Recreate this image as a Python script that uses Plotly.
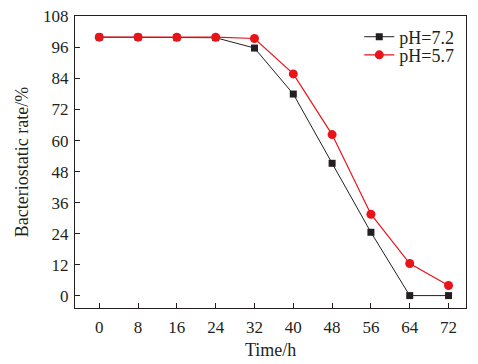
import plotly.graph_objects as go

time_h = [0, 8, 16, 24, 32, 40, 48, 56, 64, 72]
ph72 = [100, 100, 99.8, 99.8, 95.8, 78.0, 51.2, 24.5, 0, 0]
ph57 = [100, 100, 100, 100, 99.5, 85.8, 62.3, 31.5, 12.4, 3.9]
y_ticks = [0, 12, 24, 36, 48, 60, 72, 84, 96, 108]

FONT = "Times New Roman, Liberation Serif, serif"
INK = "#231f20"

fig = go.Figure()
fig.add_trace(go.Scatter(
    x=time_h, y=ph72, name="pH=7.2", mode="lines+markers",
    line=dict(color=INK, width=1),
    marker=dict(symbol="square", size=7, color=INK),
    legend="legend",
))
fig.add_trace(go.Scatter(
    x=time_h, y=ph57, name="pH=5.7", mode="lines+markers",
    line=dict(color="#e8141a", width=1.2),
    marker=dict(symbol="circle", size=9, color="#e8141a"),
    legend="legend2",
))

axis_common = dict(
    showline=True, linecolor=INK, linewidth=1, mirror=True,
    ticks="inside", ticklen=5, tickcolor=INK, showgrid=False,
    zeroline=False, automargin=False,
    tickfont=dict(family=FONT, size=17, color=INK),
)

legend_common = dict(xanchor="left", yanchor="middle", bgcolor="rgba(0,0,0,0)",
                     font=dict(family=FONT, size=18, color=INK), itemwidth=30)

fig.update_layout(
    width=478, height=364,
    margin=dict(l=75, r=12, t=16, b=56),
    paper_bgcolor="white", plot_bgcolor="white",
    font=dict(family=FONT, size=17, color=INK),
    xaxis=dict(range=[-5, 75.6], tickvals=time_h, ticklabelstandoff=4, **axis_common),
    yaxis=dict(range=[-4.8, 108.2], tickvals=y_ticks, ticklabelstandoff=2, **axis_common),
    legend=dict(x=0.727, y=0.928, **legend_common),
    legend2=dict(x=0.727, y=0.866, **legend_common),
    showlegend=True,
    annotations=[
        dict(text="Time/h", xref="paper", yref="paper", x=0.5, y=-0.145,
             xanchor="center", yanchor="middle", showarrow=False,
             font=dict(family=FONT, size=18, color=INK)),
        dict(text="Bacteriostatic rate/%", xref="paper", yref="paper", x=-0.135, y=0.5,
             xanchor="center", yanchor="middle", showarrow=False, textangle=-90,
             font=dict(family=FONT, size=18, color=INK)),
    ],
)

fig.write_html("out.html", config={"displayModeBar": False},
               post_script="document.body.style.margin='0';document.body.style.padding='0';")
